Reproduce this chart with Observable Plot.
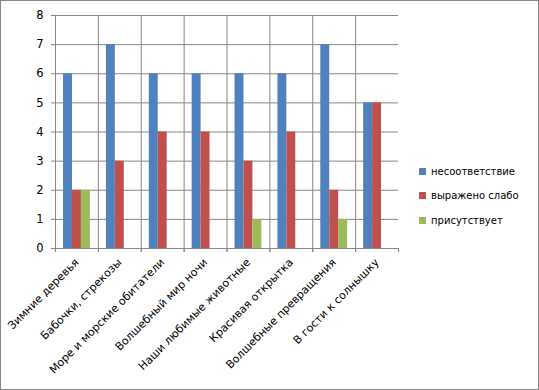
<!DOCTYPE html>
<html><head><meta charset="utf-8">
<script src="https://cdn.jsdelivr.net/npm/d3@7"></script>
<script src="https://cdn.jsdelivr.net/npm/@observablehq/plot@0.6"></script>
<style>
body{margin:0;background:#fff;font-family:"DejaVu Sans",sans-serif;}
#wrap{position:relative;width:539px;height:390px;overflow:hidden;}
#wrap svg{position:absolute;left:0;top:0;}
#border{position:absolute;left:0;top:0;width:537px;height:388px;border:1px solid #868686;pointer-events:none;}
#legend{position:absolute;left:419px;top:159px;font-size:10px;color:#000;}
.item{display:flex;align-items:center;height:24.5px;white-space:nowrap;}
.sw{width:7px;height:7px;margin-right:5px;flex:none;}
</style></head><body>
<div id="wrap"><div id="legend"></div><div id="border"></div></div>
<script>
const categories = ["Зимние деревья","Бабочки, стрекозы","Море и морские обитатели","Волшебный мир ночи","Наши любимые животные","Красивая открытка","Волшебные превращения","В гости к солнышку"];
const series = ["несоответствие","выражено слабо","присутствует"];
const colors = ["#4F81BD","#C0504D","#9BBB59"];
const nesootvetstvie = [6,7,6,6,6,6,7,5];
const vyrazhenoSlabo = [2,3,4,4,3,4,2,5];
const prisutstvuet = [2,0,0,0,1,0,1,0];
const yTicks = [0,1,2,3,4,5,6,7,8];

const valuesBySeries = [nesootvetstvie, vyrazhenoSlabo, prisutstvuet];
const rows = [];
categories.forEach((c,i)=>series.forEach((s,j)=>rows.push({cat:c, series:s, value:valuesBySeries[j][i]})));

const W=539, H=390, mL=55, mR=141, mT=15, mB=142;
const pad = 0.9;
const facetW = (W-mL-mR)/categories.length;
const grey = "#868686";

const plot = Plot.plot({
  width:W, height:H, marginLeft:mL, marginRight:mR, marginTop:mT, marginBottom:mB,
  style:{fontFamily:"DejaVu Sans", fontSize:"11px", color:"#000", background:"transparent"},
  fx:{domain:categories, padding:0, round:false, label:null, axis:null},
  x:{domain:series, paddingInner:0, paddingOuter:pad, round:false, axis:null},
  y:{domain:[0,8], label:null, axis:null},
  color:{domain:series, range:colors},
  marks:[
    Plot.gridY(yTicks,{stroke:grey, strokeOpacity:1}),
    Plot.gridFx([categories[0]],{stroke:grey, strokeOpacity:1, dx:-facetW/2}),
    Plot.barY(rows,{fx:"cat", x:"series", y:"value", fill:"series"}),
    Plot.axisY(yTicks,{anchor:"left", tickSize:4, tickPadding:8, stroke:grey, fontSize:11.5, label:null}),
    Plot.axisFx({anchor:"bottom", tickSize:4, tickFormat:()=>"", stroke:grey, dx:-facetW/2, label:null}),
    Plot.axisFx([categories[categories.length-1]],{anchor:"bottom", tickSize:4, tickFormat:()=>"", stroke:grey, dx:facetW/2, label:null}),
    Plot.axisFx({anchor:"bottom", tickSize:0, tickRotate:-45, tickPadding:12, dx:0, fontSize:11, label:null})
  ]
});
const wrap = document.getElementById("wrap");
wrap.insertBefore(plot, wrap.firstChild);

const legend = document.getElementById("legend");
series.forEach((s,j)=>{
  const it=document.createElement("div"); it.className="item";
  const sw=document.createElement("span"); sw.className="sw"; sw.style.background=colors[j];
  const tx=document.createElement("span"); tx.textContent=s;
  it.appendChild(sw); it.appendChild(tx); legend.appendChild(it);
});
</script>
</body></html>
